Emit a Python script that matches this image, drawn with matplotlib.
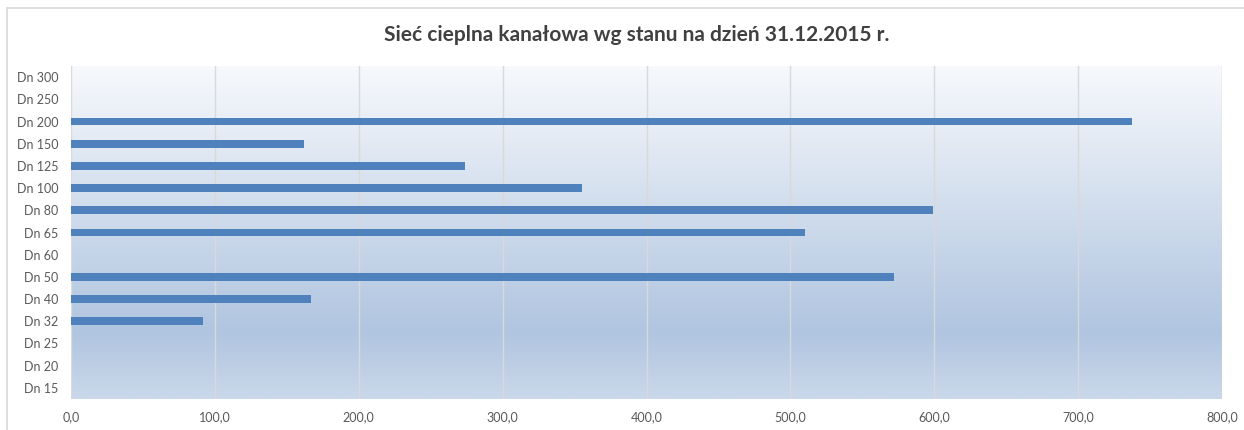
import numpy as np
import matplotlib.pyplot as plt
from matplotlib.colors import LinearSegmentedColormap
from matplotlib.patches import Rectangle

categories = ['Dn 15', 'Dn 20', 'Dn 25', 'Dn 32', 'Dn 40', 'Dn 50', 'Dn 60',
              'Dn 65', 'Dn 80', 'Dn 100', 'Dn 125', 'Dn 150', 'Dn 200',
              'Dn 250', 'Dn 300']
values = [0, 0, 0, 92, 167, 572, 0, 510, 599, 355, 274, 162, 737.5, 0, 0]
xticks = [0, 100, 200, 300, 400, 500, 600, 700, 800]
title = 'Sieć cieplna kanałowa wg stanu na dzień 31.12.2015 r.'

plt.rcParams['font.family'] = ['Lato', 'DejaVu Sans']

fig = plt.figure(figsize=(12.44, 4.30), dpi=100)
ax = fig.add_axes([71 / 1244, 1 - 399 / 430, (1222 - 71) / 1244, (399 - 66) / 430])

# outer chart border (only top/left visible in the reference)
fig.patches.append(Rectangle((7 / 1244, -0.1), 1.2, 1 - 8 / 430 + 0.1,
                             transform=fig.transFigure, fill=False,
                             edgecolor='#d9d9d9', linewidth=1.2))

# background gradient of the plot area
cmap = LinearSegmentedColormap.from_list(
    'bg', [(0.0, '#f7f9fc'), (0.8, '#b0c5e0'), (1.0, '#cad8ea')])
grad = np.linspace(0, 1, 256).reshape(-1, 1)
ylo, yhi = -0.5, len(categories) - 0.5
ax.imshow(grad, cmap=cmap, aspect='auto', extent=[0, 800, ylo, yhi],
          origin='upper', zorder=0)

y = np.arange(len(categories))
ax.barh(y, values, height=0.36, color='#4f81bd', zorder=3)

ax.set_xlim(0, 800)
ax.set_ylim(ylo, yhi)
ax.set_xticks(xticks)
ax.set_xticklabels([f'{v:.1f}'.replace('.', ',') for v in xticks])
ax.set_yticks(y)
ax.set_yticklabels(categories)
for v in xticks:
    ax.axvline(v, color='#d9d9d9', linewidth=1, zorder=1)

for s in ax.spines.values():
    s.set_visible(False)
ax.tick_params(length=0, labelsize=9, labelcolor='#595959')
ax.tick_params(axis='x', pad=9)
ax.tick_params(axis='y', pad=9)

fig.text(0.512, 1 - 35 / 430, title, ha='center', va='center',
         fontsize=15, fontweight='bold', color='#404040')

fig.savefig('out.png', dpi=100)
